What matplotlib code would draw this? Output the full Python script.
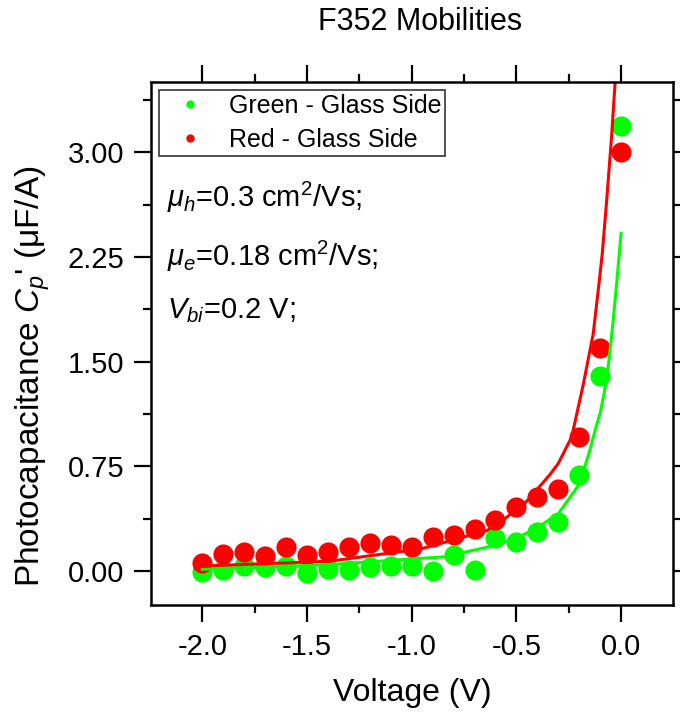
import matplotlib
matplotlib.use('Agg')
import matplotlib.pyplot as plt
from matplotlib.ticker import MultipleLocator

plt.rcParams['font.family'] = ['Liberation Sans', 'DejaVu Sans']
plt.rcParams['mathtext.fontset'] = 'custom'
plt.rcParams['mathtext.rm'] = 'Liberation Sans'
plt.rcParams['mathtext.it'] = 'Liberation Sans:italic'
plt.rcParams['mathtext.bf'] = 'Liberation Sans:bold'

# measured points
voltage = [-2.0, -1.9, -1.8, -1.7, -1.6, -1.5, -1.4, -1.3, -1.2, -1.1, -1.0,
           -0.9, -0.8, -0.7, -0.6, -0.5, -0.4, -0.3, -0.2, -0.1, 0.0]
green_cp = [-0.01, 0.007, 0.036, 0.026, 0.036, -0.012, 0.012, 0.007, 0.026, 0.036, 0.035,
            0.0, 0.115, 0.007, 0.234, 0.21, 0.28, 0.353, 0.69, 1.40, 3.19]
red_cp = [0.055, 0.12, 0.138, 0.107, 0.174, 0.115, 0.138, 0.174, 0.198, 0.186, 0.174,
          0.246, 0.258, 0.30, 0.365, 0.46, 0.53, 0.59, 0.957, 1.595, 3.0]

# fitted curves
green_fit_v = [-2.0, -1.4, -0.96, -0.85, -0.64, -0.52, -0.4, -0.3, -0.2, -0.15,
               -0.12, -0.1, -0.08, -0.06, -0.04, -0.02, 0.0]
green_fit_cp = [0.012, 0.045, 0.09, 0.10, 0.17, 0.22, 0.31, 0.41, 0.62, 0.86,
                1.03, 1.13, 1.28, 1.48, 1.76, 2.08, 2.42]
red_fit_v = [-2.0, -1.39, -0.95, -0.64, -0.55, -0.45, -0.34, -0.30, -0.236, -0.18,
             -0.133, -0.11, -0.09, -0.069, -0.045, -0.029]
red_fit_cp = [0.035, 0.07, 0.16, 0.29, 0.38, 0.50, 0.69, 0.77, 0.96, 1.34,
              1.70, 2.00, 2.27, 2.65, 3.12, 3.49]

labels = ['Green - Glass Side', 'Red - Glass Side']
green = '#00ff00'
red = '#ff0000'

fig = plt.figure(figsize=(6.8, 7.21), dpi=100)
ax = fig.add_axes([151/680, 1 - 605/721, 522/680, 523/721])

ax.plot(voltage, green_cp, 'o', color=green, markersize=14.5, markeredgewidth=0, label=labels[0])
ax.plot(voltage, red_cp, 'o', color=red, markersize=14.5, markeredgewidth=0, label=labels[1])
ax.plot(green_fit_v, green_fit_cp, '-', color=green, linewidth=2.2)
ax.plot(red_fit_v, red_fit_cp, '-', color=red, linewidth=2.2)

ax.set_xlim(-2.245, 0.248)
ax.set_ylim(-0.244, 3.504)
ax.xaxis.set_major_locator(MultipleLocator(0.5))
ax.xaxis.set_minor_locator(MultipleLocator(0.25))
ax.yaxis.set_major_locator(MultipleLocator(0.75))
ax.yaxis.set_minor_locator(MultipleLocator(0.375))
ax.xaxis.set_major_formatter(lambda v, p: f'{v:.1f}')
ax.yaxis.set_major_formatter(lambda v, p: f'{v:.2f}')

for s in ax.spines.values():
    s.set_linewidth(1.8)
ax.tick_params(which='both', direction='out', top=True, right=True, width=1.6)
ax.tick_params(which='major', length=12, labelsize=21)
ax.tick_params(which='minor', length=6)
ax.tick_params(axis='x', which='major', pad=8)
ax.tick_params(axis='y', which='major', pad=7)

ax.set_xlabel('Voltage (V)', fontsize=23)
ax.xaxis.set_label_coords(0.5, -0.168)
ax.set_ylabel("Photocapacitance $C_p$' (μF/A)", fontsize=24)
ax.yaxis.set_label_coords(-0.226, 0.438)
ax.xaxis.label.set_va('center')
ax.yaxis.label.set_va('center')

fig.text(420/680, 1 - 22/721, 'F352 Mobilities', fontsize=22, ha='center', va='center')

leg = ax.legend(loc='upper left', bbox_to_anchor=(0.0153, 0.985), fontsize=18,
                frameon=True, fancybox=False, edgecolor='#333333', framealpha=1,
                borderpad=0.15, labelspacing=0.42, handlelength=2.2, handletextpad=0.45,
                borderaxespad=0)
leg.get_frame().set_linewidth(1.2)
for h in leg.legend_handles:
    h.set_markersize(6)

ax.text(0.03, 0.78, r'$\mu_h$=0.3 cm$^2$/Vs;', transform=ax.transAxes, fontsize=21, va='center')
ax.text(0.03, 0.667, r'$\mu_e$=0.18 cm$^2$/Vs;', transform=ax.transAxes, fontsize=21, va='center')
ax.text(0.03, 0.562, r'$V_{bi}$=0.2 V;', transform=ax.transAxes, fontsize=21, va='center')

plt.savefig('out.png', dpi=100, facecolor='white')
